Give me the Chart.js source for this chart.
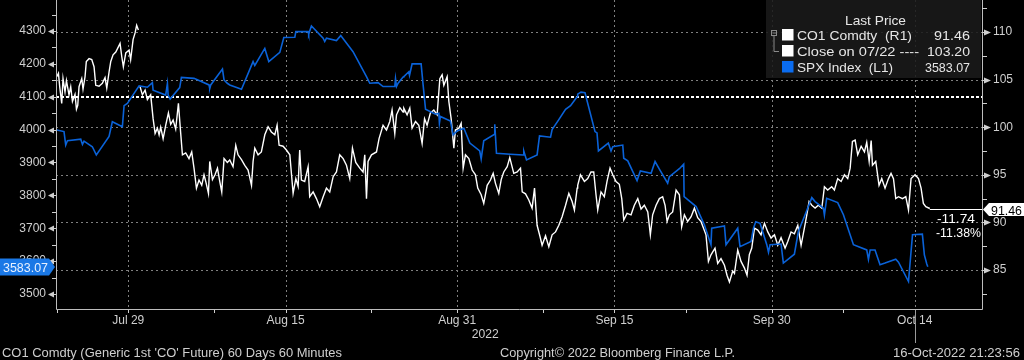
<!DOCTYPE html>
<html><head><meta charset="utf-8">
<script src="https://cdn.jsdelivr.net/npm/chart.js@4.4.1/dist/chart.umd.min.js"></script>
<style>html,body{margin:0;padding:0;background:#000;}canvas{display:block;}</style>
</head><body>
<canvas id="c" width="1024" height="360"></canvas>
<script>
// ---- axis ticks (x = trading days since Fri Jul 22, 2022) ----
const dayTicks   = [5, 16, 28, 39, 50, 60];
const dayLabels  = ['Jul 29', 'Aug 15', 'Aug 31', 'Sep 15', 'Sep 30', 'Oct 14'];
const minorDayTicks = [0, 11, 22, 34, 44, 55];
const leftTicks  = [3500, 3600, 3700, 3800, 3900, 4000, 4100, 4200, 4300];
const rightTicks = [85, 90, 95, 100, 105, 110];

// ---- CO1 Comdty (right axis) ----
const co1Days = [0.00,0.12,0.21,0.35,0.44,0.58,0.68,0.86,0.98,1.10,1.28,1.38,1.47,1.56,1.75,1.84,1.98,2.07,2.26,2.45,2.61,2.73,2.96,3.19,3.38,3.50,3.66,3.78,3.94,4.13,4.43,4.55,4.66,4.83,5.06,5.17,5.34,5.48,5.59,5.71,
 5.77,
 5.83,5.99,6.18,6.34,6.57,6.74,6.88,7.04,7.16,7.27,7.44,7.62,7.81,7.97,8.14,8.32,8.51,8.67,8.79,9.02,9.25,9.44,9.60,9.77,9.95,10.14,10.30,10.42,10.61,10.70,10.89,11.07,11.24,11.40,11.54,11.70,11.93,
 12.10,12.33,12.52,12.68,12.92,13.15,13.38,13.62,13.73,13.85,14.08,14.31,14.55,14.78,15.01,15.25,15.41,15.55,15.83,16.06,16.30,16.53,16.72,16.88,16.99,17.11,17.34,17.58,17.69,17.93,18.16,18.39,18.63,18.86,19.09,19.33,19.56,19.79,20.03,20.26,20.49,20.68,20.91,21.19,21.42,21.54,21.66,21.77,22.01,22.36,22.54,22.82,23.06,23.29,23.45,23.64,23.76,23.99,24.22,
 24.27,24.50,24.69,24.85,25.09,25.32,25.55,25.72,25.90,26.13,26.37,26.60,26.79,26.95,27.07,27.30,27.42,27.58,27.77,27.88,28.12,28.28,28.42,28.58,28.82,29.05,29.28,29.44,29.68,29.86,30.10,30.33,30.52,30.68,30.91,31.08,31.26,31.50,31.68,31.96,32.20,32.43,32.55,32.78,33.01,33.24,33.41,33.59,33.78,33.94,34.18,34.41,34.64,34.88,35.11,35.34,35.58,35.81,36.04,36.20,36.39,
 36.43,36.62,36.90,37.13,37.36,37.55,37.71,37.83,38.06,38.29,38.48,38.69,38.88,39.11,39.34,39.51,39.65,39.88,40.16,40.39,40.63,40.86,41.09,41.33,41.51,41.67,41.91,42.14,42.37,42.54,42.68,42.84,43.07,43.31,43.54,43.70,43.89,44.12,44.36,44.59,44.82,45.05,45.40,45.57,45.75,46.03,46.22,46.45,46.69,46.87,47.04,47.27,47.39,47.62,47.85,48.09,48.27,48.43,
 48.60,48.79,49.02,49.25,49.49,49.72,49.95,50.19,50.42,50.65,50.93,51.12,51.35,51.58,51.82,52.05,52.28,52.45,52.61,52.80,53.03,53.26,53.50,53.68,53.91,54.19,54.38,54.61,54.85,55.08,55.31,55.48,55.64,55.83,56.01,56.25,56.48,56.64,56.81,56.95,57.04,57.27,57.50,57.69,57.92,58.16,58.34,58.51,58.67,58.86,59.14,59.37,59.56,59.74,60.02,60.26,60.44,60.60,60.77,61.05];
const co1Price = [105.3,105.66,104.25,102.5,105.1,103.7,104.9,103.4,104.25,102.7,103.45,101.9,102.3,104.25,105.1,104.0,105.3,106.9,107.2,107.1,106.35,104.4,104.3,104.6,105.2,104.1,105.8,106.9,107.6,107.9,108.8,107.4,106.35,107.8,108.1,107.1,109.2,109.9,110.7,110.2,
 null,
 104.25,103.4,103.9,102.9,103.4,100.9,99.35,99.9,99.2,100.0,98.8,100.2,101.5,100.3,100.75,99.8,102.5,99.35,97.1,97.3,96.7,97.4,95.7,93.6,94.45,93.9,95.0,94.3,93.05,96.4,94.5,95.0,95.7,94.3,93.2,96.7,96.3,
 96.55,95.85,98.1,97.1,96.6,96.0,95.5,93.9,96.4,97.8,97.1,97.4,99.2,100.05,99.5,99.2,100.2,98.1,98.0,97.6,97.1,93.05,94.6,93.8,97.6,94.45,94.3,95.85,92.7,93.2,92.5,91.65,92.7,93.6,93.2,94.8,95.3,97.1,96.7,96.0,94.6,97.8,96.3,95.7,95.3,97.1,92.5,96.4,97.1,97.4,98.8,100.2,99.7,100.6,101.8,99.35,101.3,102.05,101.6,
 102.0,101.3,102.0,99.9,100.6,100.2,98.3,100.9,100.2,101.5,101.8,101.3,105.1,105.5,104.4,105.3,102.7,100.9,97.8,99.7,99.9,100.4,95.7,97.1,96.7,95.5,95.0,93.6,92.9,92.0,93.9,94.45,95.15,94.1,93.05,94.5,95.3,95.85,96.8,95.15,95.3,95.7,93.2,93.0,92.35,91.5,93.6,89.7,88.6,87.6,88.6,87.45,88.7,89.0,89.7,90.6,91.8,93.05,92.2,91.3,93.6,
 93.9,95.0,94.3,94.6,95.3,95.3,92.9,91.3,93.2,92.7,94.3,95.7,95.0,94.3,94.0,92.5,90.25,90.95,90.8,91.8,92.5,91.4,91.8,91.1,88.7,90.8,91.8,92.5,92.7,91.8,90.1,90.8,91.1,93.4,92.9,89.55,90.8,90.1,90.6,91.5,90.5,90.1,88.7,85.9,86.6,87.3,85.7,86.2,85.5,84.45,83.75,84.9,84.65,87.1,85.9,85.2,84.45,86.6,
 87.3,89.4,89.2,88.7,89.9,89.0,88.35,88.7,87.6,88.4,87.3,88.0,89.0,88.8,89.7,87.6,89.4,90.8,92.2,91.8,91.5,91.8,91.5,93.75,93.4,93.75,93.4,94.6,94.3,95.0,94.6,95.7,98.5,98.65,97.1,98.0,97.4,98.4,96.4,98.6,96.0,96.4,93.9,94.6,93.6,94.6,95.15,94.6,92.5,92.7,92.5,92.7,91.3,94.6,95.0,94.6,93.6,92.0,91.65,91.46];

// ---- SPX Index (left axis) ----
const spxDays = [0.00,0.51,0.63,0.75,1.68,1.80,1.91,2.49,2.77,3.66,3.89,4.59,4.71,4.94,5.76,6.34,6.69,6.74,7.62,7.74,7.79,7.93,8.60,8.72,9.60,10.65,10.70,10.77,11.59,11.70,11.93,
 12.10,12.92,13.73,13.85,14.55,14.83,15.60,15.88,16.65,16.72,17.58,17.62,17.69,17.81,18.63,18.74,18.86,19.56,19.86,20.72,21.66,21.89,22.47,22.82,23.64,23.69,23.76,23.87,24.22,
 24.27,24.62,24.67,24.85,25.48,25.62,25.79,26.48,26.72,26.76,26.83,27.53,27.72,28.00,28.47,28.89,29.58,29.68,29.86,30.61,30.63,30.75,31.73,32.62,32.66,32.85,33.59,33.76,34.53,34.64,35.04,35.58,35.93,36.39,
 36.43,36.66,36.94,37.64,37.78,37.88,38.57,38.76,38.88,39.58,39.65,39.93,40.58,40.81,41.56,41.84,42.14,42.72,42.84,43.54,43.84,43.87,44.71,45.29,45.75,45.80,46.69,46.80,47.62,47.78,48.55,
 48.72,48.88,49.18,49.65,49.77,49.88,50.65,50.81,51.58,51.86,52.33,52.80,53.03,53.61,53.68,53.84,54.61,55.01,55.71,56.64,56.76,56.88,57.22,57.57,57.92,58.67,58.86,59.56,59.84,60.53,60.67,60.84,60.91];
const spxLevel = [3999,3994,3953,3966,3971,3955,3965,3948,3923,3979,4024,4009,4073,4080,4133,4129,4143,4120,4105,4140,4105,4093,4128,4159,4156,4136,4125,4136,4184,4151,4141,
 4136,4123,4207,4195,4247,4207,4235,4280,4281,4298,4298,4290,4300,4315,4278,4268,4278,4271,4286,4237,4161,4141,4143,4131,4131,4155,4131,4141,4160,
 4161,4176,4165,4200,4200,4136,4062,4047,4050,4020,4040,4026,3984,3996,4004,3959,3935,3911,3966,3986,4016,3928,3925,3923,3935,3908,3923,3981,3977,4000,4026,4062,4073,4100,
 4108,4114,4112,3994,3990,3935,3959,3935,3948,3953,3913,3905,3845,3874,3867,3903,3880,3837,3857,3881,3895,3796,3766,3710,3650,3700,3707,3650,3700,3644,3660,
 3700,3720,3715,3650,3627,3650,3652,3594,3621,3690,3741,3793,3781,3761,3740,3791,3778,3741,3650,3634,3605,3634,3634,3589,3594,3606,3597,3538,3680,3682,3619,3591,3583.07];

const closeRef = 103.20;
const co1Last = 91.46, spxLast = 3583.07;
const co1Chg = '-11.74', co1ChgPct = '-11.38%';

const LBL = '#cfcfcf';
const FONT = '"Liberation Sans", Arial, sans-serif';

function pts(xs, ys){ return xs.map((x,i)=>({x:x, y:ys[i]})); }

function fitText(ctx, s, x, y, w, align, size, color){
  ctx.save();
  ctx.font = size + 'px ' + FONT;
  const m = ctx.measureText(s).width;
  const k = w ? w / m : 1;
  const tw = m * k;
  const x0 = align === 'right' ? x - tw : (align === 'center' ? x - tw/2 : x);
  ctx.fillStyle = color;
  ctx.textBaseline = 'alphabetic';
  ctx.textAlign = 'left';
  ctx.translate(x0, y); ctx.scale(k, 1);
  ctx.fillText(s, 0, 0);
  ctx.restore();
}

const bbg = {
  id: 'bbg',
  beforeDatasetsDraw(chart){
    const {ctx, chartArea:a} = chart;
    const x = chart.scales.x, yR = chart.scales.yR;
    ctx.save();
    ctx.strokeStyle = '#808080'; ctx.lineWidth = 1; ctx.setLineDash([2,3]);
    rightTicks.forEach(v=>{
      const y = Math.round(yR.getPixelForValue(v)) + 0.5;
      ctx.beginPath(); ctx.moveTo(a.left, y); ctx.lineTo(a.right, y); ctx.stroke();
    });
    dayTicks.forEach(d=>{
      const px = Math.round(x.getPixelForValue(d)) + 0.5;
      ctx.beginPath(); ctx.moveTo(px, a.top); ctx.lineTo(px, a.bottom); ctx.stroke();
    });
    ctx.strokeStyle = '#ffffff'; ctx.lineWidth = 2; ctx.setLineDash([3,2]);
    const yc = Math.round(yR.getPixelForValue(closeRef));
    ctx.beginPath(); ctx.moveTo(a.left, yc); ctx.lineTo(a.right, yc); ctx.stroke();
    ctx.restore();
  },
  afterDatasetsDraw(chart){
    const {ctx, chartArea:a} = chart;
    const x = chart.scales.x, yR = chart.scales.yR, yL = chart.scales.yL;
    ctx.save();
    const lx = x.getPixelForValue(co1Days[co1Days.length-1]);
    const ly = Math.round(yR.getPixelForValue(co1Last)) + 0.5;
    ctx.strokeStyle = '#ffffff'; ctx.lineWidth = 1;
    ctx.beginPath(); ctx.moveTo(lx, ly); ctx.lineTo(a.right, ly); ctx.stroke();

    ctx.strokeStyle = '#bdbdbd'; ctx.lineWidth = 1;
    ctx.beginPath();
    ctx.moveTo(a.left + 0.5, a.top); ctx.lineTo(a.left + 0.5, a.bottom - 0.5);
    ctx.lineTo(a.right + 0.5, a.bottom - 0.5); ctx.lineTo(a.right + 0.5, a.top);
    ctx.stroke();

    ctx.fillStyle = LBL; ctx.strokeStyle = LBL;
    for (let v = 3450; v <= 4400; v += 50){
      const y = yL.getPixelForValue(v);
      if (y < a.top + 2 || y > a.bottom - 2) continue;
      const yy = Math.round(y) + 0.5;
      if (v % 100 === 0){
        ctx.beginPath(); ctx.moveTo(48, yy); ctx.lineTo(54, yy - 3); ctx.lineTo(54, yy + 3); ctx.closePath(); ctx.fill();
        ctx.beginPath(); ctx.moveTo(53, yy); ctx.lineTo(a.left, yy); ctx.stroke();
      } else {
        ctx.beginPath(); ctx.moveTo(52, yy); ctx.lineTo(a.left, yy); ctx.stroke();
      }
    }
    for (let v = 80; v <= 115; v += 2.5){
      const y = yR.getPixelForValue(v);
      if (y < a.top + 2 || y > a.bottom - 2) continue;
      const yy = Math.round(y) + 0.5;
      if (v % 5 === 0){
        ctx.beginPath(); ctx.moveTo(991, yy); ctx.lineTo(984, yy - 3); ctx.lineTo(984, yy + 3); ctx.closePath(); ctx.fill();
        ctx.beginPath(); ctx.moveTo(a.right, yy); ctx.lineTo(985, yy); ctx.stroke();
      } else {
        ctx.beginPath(); ctx.moveTo(a.right, yy); ctx.lineTo(987, yy); ctx.stroke();
      }
    }
    dayTicks.concat(minorDayTicks).forEach(d=>{
      const px = Math.round(x.getPixelForValue(d)) + 0.5;
      ctx.beginPath(); ctx.moveTo(px, a.bottom); ctx.lineTo(px, a.bottom + 3); ctx.stroke();
    });
    const pxo = Math.round(x.getPixelForValue(dayTicks[dayTicks.length-1])) + 0.5;
    ctx.strokeStyle = '#9a9a9a';
    ctx.beginPath(); ctx.moveTo(pxo, a.bottom); ctx.lineTo(pxo, 343); ctx.stroke();

    fitText(ctx, '2022', x.getPixelForValue(dayTicks[2]) + 28, 337.5, 27, 'center', 12, LBL);
    fitText(ctx, "CO1 Comdty (Generic 1st 'CO' Future) 60 Days 60 Minutes", 2, 356.5, 340, 'left', 12.5, LBL);
    fitText(ctx, 'Copyright\u00A9 2022 Bloomberg Finance L.P.', 500, 356.5, 235, 'left', 12.5, LBL);
    fitText(ctx, '16-Oct-2022 21:23:56', 1020, 356.5, 127, 'right', 12.5, LBL);

    ctx.fillStyle = '#ffffff';
    ctx.beginPath();
    ctx.moveTo(983, ly); ctx.lineTo(989, ly - 6.5); ctx.lineTo(1024, ly - 6.5);
    ctx.lineTo(1024, ly + 6.5); ctx.lineTo(989, ly + 6.5); ctx.closePath(); ctx.fill();
    fitText(ctx, co1Last.toFixed(2), 1022, ly + 5, 31, 'right', 12.5, '#000000');
    fitText(ctx, co1Chg, 975, 222.5, 38, 'right', 12.5, '#ffffff');
    fitText(ctx, co1ChgPct, 981, 237, 45, 'right', 12.5, '#ffffff');

    const sy = Math.round(yL.getPixelForValue(spxLast));
    ctx.fillStyle = '#1a78e6';
    ctx.beginPath();
    ctx.moveTo(0, sy - 8.5); ctx.lineTo(49, sy - 8.5); ctx.lineTo(55, sy);
    ctx.lineTo(49, sy + 8.5); ctx.lineTo(0, sy + 8.5); ctx.closePath(); ctx.fill();
    fitText(ctx, spxLast.toFixed(2), 3, sy + 5, 45, 'left', 12.5, '#e8f1ff');

    ctx.fillStyle = 'rgba(26,26,26,0.88)';
    ctx.fillRect(766, 0, 215, 78);
    fitText(ctx, 'Last Price', 845, 25, 61, 'left', 13, '#e6e6e6');
    const rows = [
      {c:'#ffffff', t:'CO1 Comdty  (R1)', tw:115, v:co1Last.toFixed(2), vw:36},
      {c:'#ffffff', t:'Close on 07/22 ----', tw:122, v:closeRef.toFixed(2), vw:43},
      {c:'#0a6cf0', t:'SPX Index  (L1)', tw:96, v:spxLast.toFixed(2), vw:45}
    ];
    rows.forEach((r,i)=>{
      const base = 40 + i*16;
      ctx.fillStyle = r.c; ctx.fillRect(782, base - 11, 11.5, 11.5);
      fitText(ctx, r.t, 797, base, r.tw, 'left', 13, '#e6e6e6');
      fitText(ctx, r.v, 970, base, r.vw, 'right', 13, '#e6e6e6');
    });
    ctx.strokeStyle = '#8a8a8a'; ctx.lineWidth = 1;
    ctx.strokeRect(771.5, 30.5, 5, 5);
    ctx.beginPath(); ctx.moveTo(772.5, 33); ctx.lineTo(776, 33);
    ctx.moveTo(774, 36); ctx.lineTo(774, 51.5); ctx.lineTo(779, 51.5); ctx.stroke();
    ctx.restore();
  }
};

function noPad(s){ s.paddingTop = 0; s.paddingBottom = 0; s.paddingLeft = 0; s.paddingRight = 0; }

new Chart(document.getElementById('c'), {
  type: 'line',
  data: {
    datasets: [
      {label:'SPX Index', data: pts(spxDays, spxLevel), yAxisID:'yL', borderColor:'#0a62d8', borderWidth:1.6, pointRadius:0, tension:0, order:1},
      {label:'CO1 Comdty', data: pts(co1Days, co1Price), yAxisID:'yR', borderColor:'#ffffff', borderWidth:1.4, pointRadius:0, tension:0, spanGaps:false, order:2}
    ]
  },
  options: {
    responsive: false, animation: false, devicePixelRatio: 1,
    layout: {padding: 0},
    plugins: {legend:{display:false}, tooltip:{enabled:false}, title:{display:false}},
    scales: {
      x: {
        type:'linear', position:'bottom', min:-0.05, max:64.7, bounds:'data',
        grid:{display:false, drawTicks:false}, border:{display:false},
        afterBuildTicks: s => { s.ticks = dayTicks.map(v=>({value:v})); },
        afterFit: s => { s.height = 50; noPad(s); },
        ticks:{ autoSkip:false, maxRotation:0, padding:3, color:LBL, font:{family:FONT, size:12},
          callback: v => dayLabels[dayTicks.indexOf(v)] || '' }
      },
      yL: {
        type:'linear', position:'left', min:3451.3, max:4394.3, bounds:'data',
        grid:{display:false, drawTicks:false}, border:{display:false},
        afterBuildTicks: s => { s.ticks = leftTicks.map(v=>({value:v})); },
        afterFit: s => { s.width = 56; noPad(s); },
        ticks:{ padding:10, color:LBL, font:{family:FONT, size:12}, callback: v => String(v) }
      },
      yR: {
        type:'linear', position:'right', min:80.8, max:113.36, bounds:'data',
        grid:{display:false, drawTicks:false}, border:{display:false},
        afterBuildTicks: s => { s.ticks = rightTicks.map(v=>({value:v})); },
        afterFit: s => { s.width = 42; noPad(s); },
        ticks:{ padding:11, color:LBL, font:{family:FONT, size:12}, callback: v => String(v) }
      }
    }
  },
  plugins:[bbg]
});
</script>
</body></html>
